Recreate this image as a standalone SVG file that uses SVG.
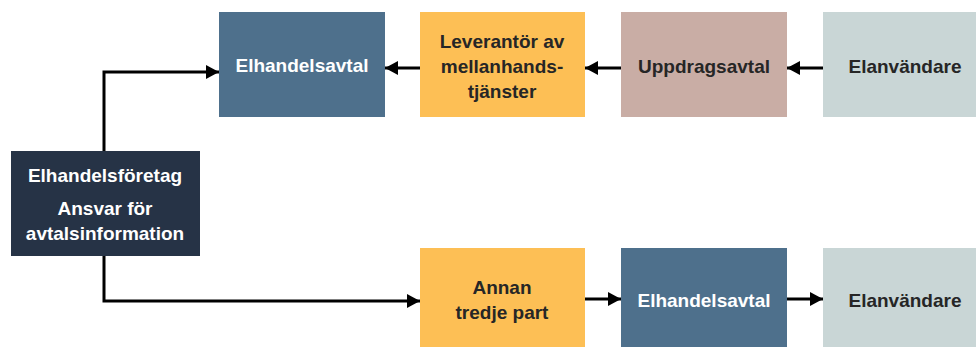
<svg xmlns="http://www.w3.org/2000/svg" width="976" height="347" viewBox="0 0 976 347">
<defs>
<style>
text{font-family:"Liberation Sans Narrow","Liberation Sans",Arial,sans-serif;font-weight:bold;font-size:19px;text-anchor:middle}
.w{fill:#ffffff}.d{fill:#262626}
.c{stroke:#000;stroke-width:3;fill:none}
</style>
<marker id="ah" markerWidth="13" markerHeight="14" refX="13" refY="7" orient="auto" markerUnits="userSpaceOnUse"><path d="M0,0 L13,7 L0,14 z" fill="#000"/></marker>
</defs>
<rect width="976" height="347" fill="#fff"/>
<g id="connectors">
<path class="c" d="M104,151 V72 H219" marker-end="url(#ah)"/>
<path class="c" d="M420,68 H385" marker-end="url(#ah)"/>
<path class="c" d="M621,68 H585" marker-end="url(#ah)"/>
<path class="c" d="M823,68 H787" marker-end="url(#ah)"/>
<path class="c" d="M104,256 V301 H420" marker-end="url(#ah)"/>
<path class="c" d="M585,299 H621" marker-end="url(#ah)"/>
<path class="c" d="M787,299 H823" marker-end="url(#ah)"/>
</g>
<g id="elhandelsavtal1"><rect x="219" y="12" width="166" height="105" fill="#4E708C"/><text class="w" x="302" y="72">Elhandelsavtal</text></g>
<g id="leverantor"><rect x="420" y="12" width="165" height="105" fill="#FDBF55"/><text class="d" x="502" y="48">Leverantör av</text><text class="d" x="502" y="73">mellanhands-</text><text class="d" x="502" y="98">tjänster</text></g>
<g id="uppdragsavtal"><rect x="621" y="12" width="166" height="105" fill="#C9ADA5"/><text class="d" x="704" y="73">Uppdragsavtal</text></g>
<g id="elanvandare1"><rect x="823" y="12" width="160" height="105" fill="#C9D6D6"/><text class="d" x="905" y="73">Elanvändare</text></g>
<g id="elhandelsforetag"><rect x="11" y="151" width="189" height="105" fill="#263346"/><text class="w" x="105" y="182">Elhandelsföretag</text><text class="w" x="105" y="215">Ansvar för</text><text class="w" x="105" y="240">avtalsinformation</text></g>
<g id="annan"><rect x="420" y="248" width="165" height="105" fill="#FDBF55"/><text class="d" x="502" y="294">Annan</text><text class="d" x="502" y="319">tredje part</text></g>
<g id="elhandelsavtal2"><rect x="621" y="248" width="166" height="105" fill="#4E708C"/><text class="w" x="704" y="307">Elhandelsavtal</text></g>
<g id="elanvandare2"><rect x="823" y="248" width="160" height="105" fill="#C9D6D6"/><text class="d" x="905" y="307">Elanvändare</text></g>
</svg>
